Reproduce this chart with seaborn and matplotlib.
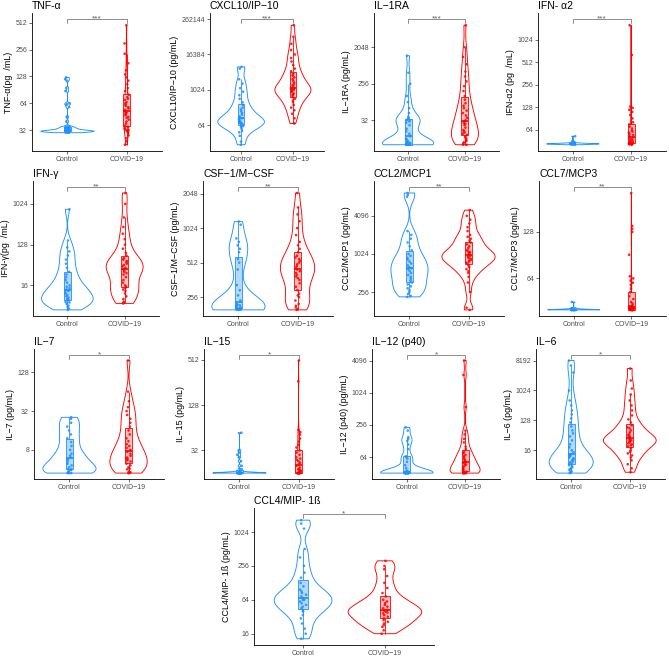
import numpy as np
import pandas as pd
import matplotlib
matplotlib.use("Agg")
import matplotlib.pyplot as plt
import seaborn as sns
from matplotlib.ticker import NullLocator

sns.set_theme(style="white")
plt.rcParams['font.family'] = ['Liberation Sans', 'DejaVu Sans']

GROUPS = ["Control", "COVID−19"]
BLUE = "#1E90FF"
RED = "#FF0000"
BLUE_L = "#B4D9FF"
RED_L = "#FFBDBD"

# ---------------- data (pg/mL) ----------------
tnf_ctrl = [30,30,30,31,31,31,31,31,31,31,31,31,31,31,31,31,31,31,31,31,31,32,32,32,32,32,33,33,33,33,34,34,34,35,35,35,
            40,45,58,61,63,64,88,95,115,120,125]
tnf_covid = [22,24,26,28,30,31,32,32,33,34,35,36,38,40,42,44,45,47,48,50,50,52,54,56,58,60,62,64,66,70,72,75,80,88,95,105,115,125,135,150,180,230,300,480]

cxcl_ctrl = [14,18,28,37,42,49,56,60,64,69,74,79,79,84,91,97,104,111,119,128,147,169,194,223,256,315,388,512,676,891,1176,1663,2353,5405,6208]
cxcl_covid = [74,111,158,208,256,315,388,446,512,588,676,724,776,891,955,1024,1024,1097,1176,1261,1448,1552,1783,2048,2353,2702,3104,3566,4390,5405,7132,9410,12417,16384,23170,37640,65536,161464]

il1ra_ctrl = [8,8,8,8,8,8,8,8,8,8,8.3,8.6,8.6,8.9,9.2,9.8,10.6,11.3,13,14.9,17.1,19.7,24.3,27.9,29.9,32,32,34.3,36.8,39.4,48.5,64,90.5,128,256,478,1261]
il1ra_covid = [8,8,8.6,9.2,9.8,10.6,11.3,12.1,13,13.9,14.9,16,17.1,18.4,21.1,24.3,26,27.9,29.9,32,36.8,42.2,48.5,55.7,64,73.5,84.4,104,128,169,223,294,388,512,776,1176,2048,7132]

ifna_ctrl = [40,41,41,41,41,41,41,41,41,41,41,41,41,41,41,41,41,41,41,41,41,41,41,42,42,43,45,52]
ifna_covid = [40,41,41,41,41,41,41,41,42,42,42,43,43,44,45,46,47,48,50,52,54,56,58,60,62,66,70,75,80,90,100,110,118,125,130,640,1600]

ifng_ctrl = [4.6,4.9,5.3,5.7,6.1,6.5,6.7,7,7.5,8,8,8.6,9.2,9.8,10.6,11.3,12.1,13,13.9,14.9,16,18.4,21.1,24.3,27.9,32,39.4,48.5,59.7,73.5,90.5,111,158,776]
ifng_covid = [6.4,6.5,7,8,9.2,10.6,12.1,13,13.9,14.9,16,18.4,21.1,24.3,27.9,29.9,32,34.3,36.8,39.4,42.2,45.3,48.5,52,55.7,59.7,64,73.5,84.4,104,128,169,223,315,512,1024,1783]

csf_ctrl = [198,198,200,201,201,202,204,205,208,211,214,217,220,223,239,265,294,326,446,512,549,630,676,724,776,832,1097,1168]
csf_covid = [198,201,208,215,223,239,256,265,274,294,315,338,362,375,388,402,416,431,446,461,478,495,512,530,549,568,588,630,676,724,776,891,1024,1176,1351,1552,2076]

ccl2_ctrl = [215,223,239,256,274,294,315,338,362,388,416,446,478,512,549,588,609,630,676,724,776,832,891,955,1024,1176,1351,1552,1783,2048,2353,8192,8780,9410]
ccl2_covid = [134,145,256,362,446,512,549,588,630,676,724,749,776,803,832,861,891,922,955,989,1024,1060,1097,1136,1176,1261,1351,1448,1552,1663,1783,1911,2048,2353,2702,3104,3566,4096,5043]

ccl7_ctrl = [40,40,40,40,40,40,40,40,40,40,40,40,40,40,40,40,40,40,40,40,41,41,45]
ccl7_covid = [40,40,40,40,40,40,40,40,40,40,40,40,40,40,41,41,41,41,41,41,41,41,42,42,42,42,42,42,43,44,
              45,47,49,52,55,58,60,62,64,66,91,128,134,140,229]

il7_ctrl = [3.5,3.5,3.5,3.6,3.7,3.9,4,4,4.3,4.6,4.9,5.3,5.7,6.1,6.5,7,8,9.2,10.6,12.1,13.9,16,18.4,21.1,24.3,25.6]
il7_covid = [3.5,3.5,3.6,3.7,4,4.1,4.3,4.6,4.9,5.3,5.5,5.7,5.9,6.1,6.5,7,7.5,8,8.6,9.2,9.8,10.9,12.1,13.9,16,18.4,21.1,24.3,27.9,32,36.8,45.3,64,194]

il15_ctrl = [16,16,16,16,16,16,16,16,16,16,16,16,16,16,16,16,16,16,16,16,16.5,17,18,20,23,26,28,30,32,55]
il15_covid = [16,16,16,16,16,16,16,16,16,16,16.5,17,17,17.5,18,18,19,20,21,22,23,24,25,26,28,30,32,35,38,42,46,52,56,60,265,500]

il12_ctrl = [32,32,32,32,32,32,32,32,32,32,32,32,32,32,33,34,36,40,45,52,60,64,66,90,110,128,140,150,200,230]
il12_covid = [32,32,32,32,32,32,33,34,35,36,38,40,42,44,46,48,50,52,55,58,62,66,70,75,80,90,100,120,140,170,200,550,2200,4096]

il6_ctrl = [3.3,3.5,3.7,4,4.3,4.6,4.9,5.3,5.7,6.1,6.5,7,7.5,8,8.6,9.2,9.8,10.6,11.3,12.1,13.9,16,19.7,24.3,32,42.2,52,64,84.4,111,147,194,256,362,512,1024,3566,5793,8192]
il6_covid = [3.5,4.6,6.1,8,9.8,11.3,13,14.4,16,18.4,21.1,22.6,24.3,26,27.9,29.9,32,32,34.3,36.8,39.4,42.2,45.3,48.5,55.7,64,73.5,78.8,90.5,111,137,181,256,362,512,776,1176,2048,4705]

ccl4_ctrl = [13,16,19.7,24.3,29.9,34.3,39.4,42.2,45.3,48.5,52,55.7,59.7,64,64,68.6,73.5,78.8,84.4,90.5,97,111,128,158,194,256,362,512,1176,1448,1663]
ccl4_covid = [16,18.4,21.1,22.6,24.3,26,27.9,29.9,32,34.3,36.8,38,39.4,40.8,42.2,45.3,48.5,52,55.7,59.7,64,73.5,84.4,104,128,169,223,256,315]

titles = ["TNF-α", "CXCL10/IP−10", "IL−1RA", "IFN- α2",
          "IFN-γ", "CSF−1/M−CSF", "CCL2/MCP1", "CCL7/MCP3",
          "IL−7", "IL−15", "IL−12 (p40)", "IL−6", "CCL4/MIP- 1ß"]
ylabels = ["TNF-α(pg  /mL)", "CXCL10/IP−10 (pg/mL)", "IL−1RA (pg/mL)", "IFN-α2 (pg  /mL)",
           "IFN-γ(pg  /mL)", "CSF−1/M−CSF (pg/mL)", "CCL2/MCP1 (pg/mL)", "CCL7/MCP3 (pg/mL)",
           "IL−7 (pg/mL)", "IL−15 (pg/mL)", "IL−12 (p40) (pg/mL)", "IL−6 (pg/mL)", "CCL4/MIP- 1ß (pg/mL)"]
signif = ["***", "***", "***", "***", "**", "**", "**", "**", "*", "*", "*", "*", "*"]
yticks = [[32, 64, 128, 256, 512], [64, 1024, 16384, 262144], [32, 256, 2048], [64, 128, 256, 512, 1024],
          [16, 128, 1024], [256, 512, 1024, 2048], [256, 1024, 4096], [64, 128],
          [8, 32, 128], [32, 128, 512], [64, 256, 1024, 4096], [16, 128, 1024, 8192], [16, 64, 256, 1024]]
controls = [tnf_ctrl, cxcl_ctrl, il1ra_ctrl, ifna_ctrl, ifng_ctrl, csf_ctrl, ccl2_ctrl, ccl7_ctrl,
            il7_ctrl, il15_ctrl, il12_ctrl, il6_ctrl, ccl4_ctrl]
covids = [tnf_covid, cxcl_covid, il1ra_covid, ifna_covid, ifng_covid, csf_covid, ccl2_covid, ccl7_covid,
          il7_covid, il15_covid, il12_covid, il6_covid, ccl4_covid]

# panel boxes in pixels: left, top, right, bottom
layout = [(32, 13, 162, 151), (210, 13, 324, 151), (374, 13, 499, 151), (538, 13, 666, 151),
          (33, 181, 159, 316), (203, 181, 333, 316), (374, 181, 504, 316), (539, 181, 666, 316),
          (34, 349, 164, 479), (204, 349, 334, 479), (372, 349, 500, 479), (536, 349, 665, 479),
          (254, 508, 434, 645)]

W, H = 669, 665


def nrd0(kde):
    x = np.asarray(kde.dataset).ravel()
    n = x.size
    sd = x.std(ddof=1)
    q75, q25 = np.percentile(x, [75, 25])
    lo = min(sd, (q75 - q25) / 1.34)
    if lo <= 0:
        lo = sd
    return 0.9 * lo * n ** -0.2 / sd


fig = plt.figure(figsize=(W / 100, H / 100), dpi=100)

for i in range(13):
    l, t, r, b = layout[i]
    ax = fig.add_axes([l / W, 1 - b / H, (r - l) / W, (b - t) / H])
    ctrl, cov = controls[i], covids[i]
    df = pd.DataFrame({"group": [GROUPS[0]] * len(ctrl) + [GROUPS[1]] * len(cov),
                       "value": list(ctrl) + list(cov)})
    sns.violinplot(data=df, x="group", y="value", hue="group", order=GROUPS, hue_order=GROUPS,
                   palette=[BLUE, RED], fill=False, inner=None, cut=0, width=0.9,
                   density_norm="area", common_norm=True, bw_method=nrd0, bw_adjust=0.7,
                   gridsize=400, linewidth=0.65, log_scale=2, legend=False, ax=ax)
    for g, strong, light in [(GROUPS[0], BLUE, BLUE_L), (GROUPS[1], RED, RED_L)]:
        sub = df[df["group"] == g]
        sns.boxplot(data=sub, x="group", y="value", order=GROUPS, color=light, linecolor=strong,
                    saturation=1, width=0.12, linewidth=0.6, showfliers=False, showcaps=False,
                    medianprops=dict(linewidth=1.2), ax=ax)
    sns.stripplot(data=df, x="group", y="value", hue="group", order=GROUPS, hue_order=GROUPS,
                  palette=[BLUE, RED], jitter=0.04, size=1.9, alpha=0.85, linewidth=0,
                  legend=False, ax=ax)

    vals = np.log2(np.asarray(df["value"], dtype=float))
    lo, hi = vals.min(), vals.max()
    bar = hi + 0.05 * (hi - lo)
    span = bar - lo
    ylo, yhi = lo - 0.05 * span, bar + 0.05 * span
    ax.set_ylim(2 ** ylo, 2 ** yhi)
    ax.set_xlim(-0.6, 1.6)
    tip = 0.03 * (yhi - ylo)
    ax.plot([0, 0, 1, 1], [2 ** (bar - tip), 2 ** bar, 2 ** bar, 2 ** (bar - tip)],
            color="#606060", lw=0.5, clip_on=False)
    ax.annotate(signif[i], xy=(0.5, 2 ** bar), xytext=(0, -1.0), textcoords="offset points",
                ha="center", va="baseline", fontsize=6, color="#606060", annotation_clip=False)

    ax.set_yticks(yticks[i])
    ax.set_yticklabels([str(v) for v in yticks[i]])
    ax.yaxis.set_minor_locator(NullLocator())
    ax.set_xticks([0, 1])
    ax.set_xticklabels(GROUPS)
    ax.tick_params(axis="both", length=2, width=0.5, color="#333333", labelsize=5,
                   labelcolor="#4D4D4D", pad=1.5, left=True, bottom=True)
    for s in ["top", "right"]:
        ax.spines[s].set_visible(False)
    for s in ["left", "bottom"]:
        ax.spines[s].set_color("black")
        ax.spines[s].set_linewidth(0.6)
    ax.set_xlabel("")
    ax.set_ylabel(ylabels[i], fontsize=6.4, labelpad=2, color="black")
    ax.set_title(titles[i], loc="left", fontsize=7.5, pad=3, color="black")
    ax.set_facecolor("white")

fig.savefig("out.png", dpi=100, facecolor="white")
